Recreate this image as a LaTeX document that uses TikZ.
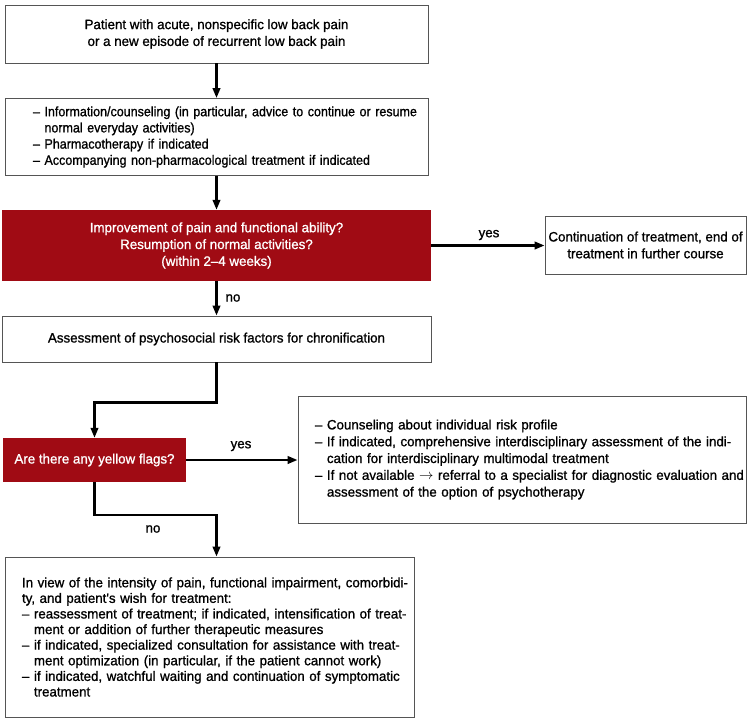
\documentclass[tikz,border=0pt]{standalone}
\usepackage{fontspec}
\setmainfont[FakeBold=1.0,FakeStretch=0.98]{Liberation Sans}
\newfontfamily\narrowfont[FakeBold=1.0,FakeStretch=0.92]{Liberation Sans}
\usetikzlibrary{arrows.meta}
\definecolor{flagred}{RGB}{160,11,20}
\definecolor{boxline}{RGB}{85,85,85}
\newcommand\idash{–\ }
\newcommand\icont{\hphantom{–\ }}
\newcommand\oneline[1]{\mbox{#1}}
\begin{document}
\begin{tikzpicture}[x=1pt,y=-1pt,
  every node/.style={font=\fontsize{13.6}{16.8}\selectfont, inner sep=0pt},
  box/.style={draw=boxline, line width=0.9pt, fill=white},
  redbox/.style={fill=flagred, text=white},
  conn/.style={line width=2.4pt, -{Triangle[length=10pt,width=7.5pt]}},
  lbl/.style={}
]
\useasboundingbox (0,0) rectangle (749,723);

\node[box, minimum width=423pt, minimum height=58pt, align=center] (start) at (216.5,34)
  {Patient with acute, nonspecific low back pain\\or a new episode of recurrent low back pain};

\node[box, minimum width=423pt, minimum height=77pt, inner xsep=28pt, text width=367pt, align=left,
      font=\narrowfont\fontsize{13.6}{16.2}\selectfont] (info) at (216.5,137)
  {\oneline{\idash Information/counseling (in particular, advice to continue or resume}\\
   \oneline{\icont normal everyday activities)}\\
   \oneline{\idash Pharmacotherapy if indicated}\\
   \oneline{\idash Accompanying non-pharmacological treatment if indicated}};

\node[redbox, minimum width=429pt, minimum height=71pt, align=center] (q1) at (216.5,245.5)
  {Improvement of pain and functional ability?\\Resumption of normal activities?\\(within 2–4 weeks)};

\node[box, minimum width=201pt, minimum height=58pt, align=center] (cont) at (645.5,245)
  {Continuation of treatment, end of\\treatment in further course};

\node[box, minimum width=429pt, minimum height=46pt] (assess) at (216.5,339)
  {Assessment of psychosocial risk factors for chronification};

\node[redbox, minimum width=183pt, minimum height=44pt] (q2) at (94.5,460)
  {Are there any yellow flags?};

\node[box, minimum width=448pt, minimum height=127pt, inner xsep=17pt, text width=414pt, align=left] (risk) at (522,459.5)
  {\oneline{\idash Counseling about individual risk profile}\\
   \oneline{\idash If indicated, comprehensive interdisciplinary assessment of the indi-}\\
   \oneline{\icont cation for interdisciplinary multimodal treatment}\\
   \oneline{\idash If not available $\rightarrow$ referral to a specialist for diagnostic evaluation and}\\
   \oneline{\icont assessment of the option of psychotherapy}};

\node[box, minimum width=409pt, minimum height=160pt, inner xsep=17pt, text width=375pt, align=left,
      font=\fontsize{13.6}{15.6}\selectfont] (last) at (209.5,637)
  {\oneline{In view of the intensity of pain, functional impairment, comorbidi-}\\
   \oneline{ty, and patient\textquotesingle s wish for treatment:}\\
   \oneline{\idash reassessment of treatment; if indicated, intensification of treat-}\\
   \oneline{\icont ment or addition of further therapeutic measures}\\
   \oneline{\idash if indicated, specialized consultation for assistance with treat-}\\
   \oneline{\icont ment optimization (in particular, if the patient cannot work)}\\
   \oneline{\idash if indicated, watchful waiting and continuation of symptomatic}\\
   \oneline{\icont treatment}};

\draw[conn] (start.south) -- (info.north);
\draw[conn] (info.south) -- (q1.north);
\draw[conn] (q1.east) -- (q1.east -| cont.west);
\draw[conn] (q1.south) -- (assess.north);
\draw[conn] (assess.south) -- ++(0,40) -| (q2.north);
\draw[conn] (q2.east) -- (q2.east -| risk.west);
\draw[conn] (q2.south) -- ++(0,33) -| (last.north -| start.south);

\node[lbl] (yes1) at (489,235) {yes};
\node[lbl] (no1) at (233,298) {no};
\node[lbl] (yes2) at (241,446) {yes};
\node[lbl] (no2) at (153,529) {no};
\end{tikzpicture}
\end{document}
